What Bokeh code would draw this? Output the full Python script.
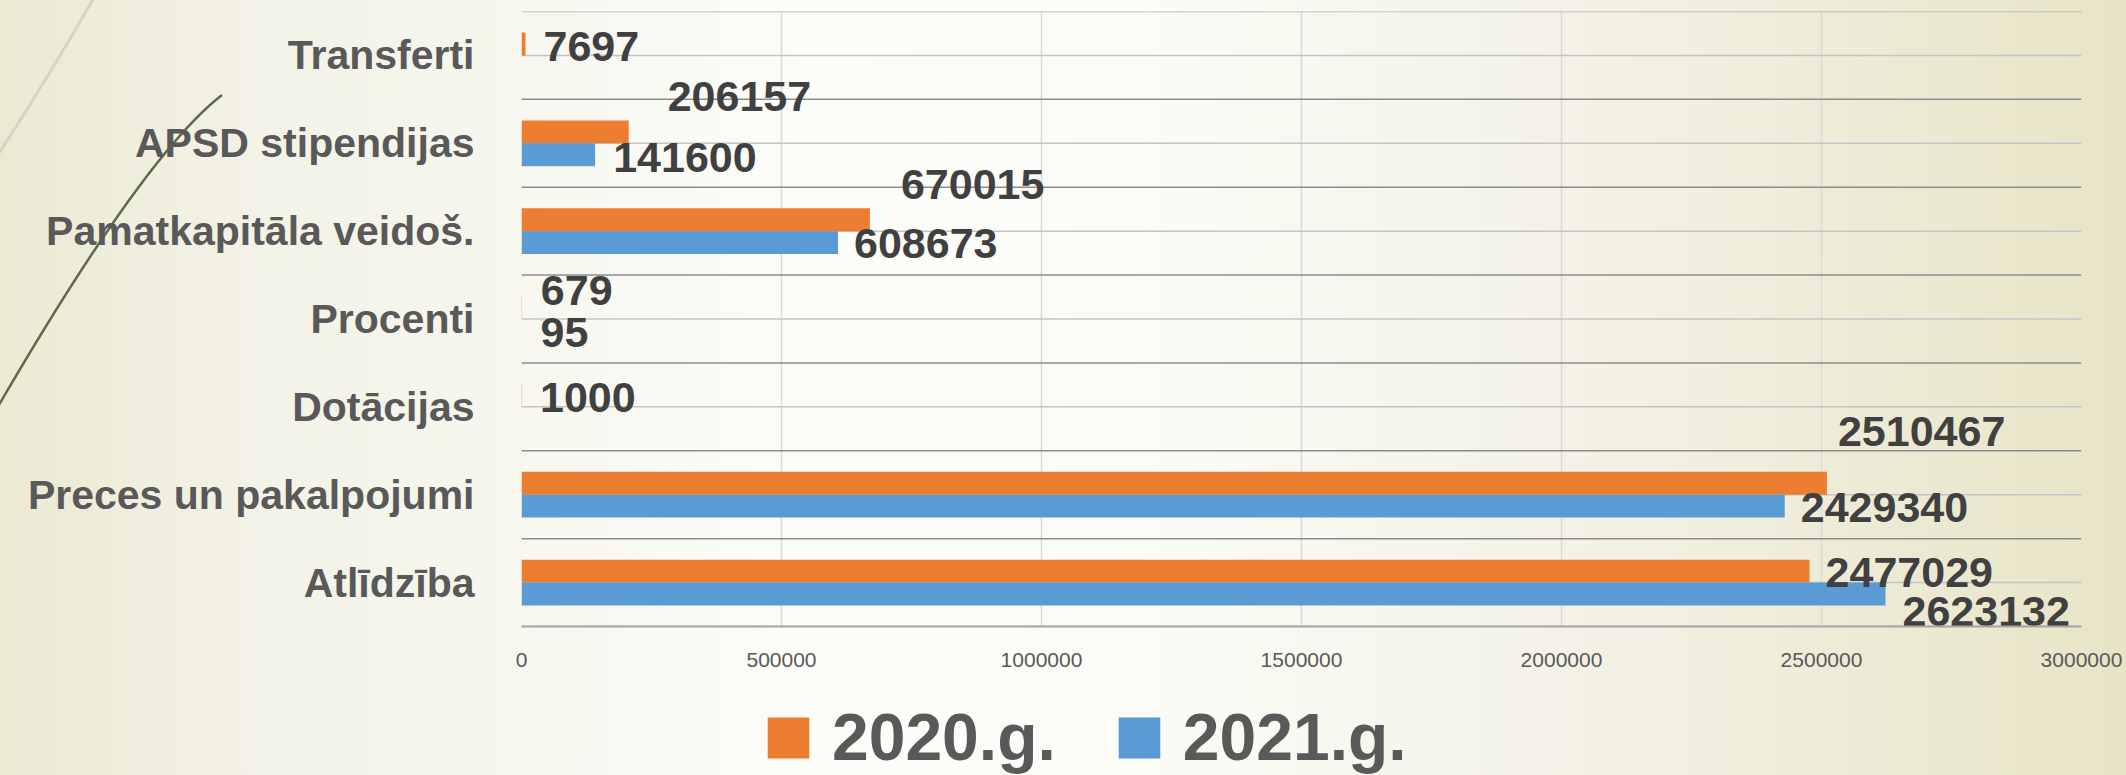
from urllib.parse import quote

from bokeh.plotting import figure
from bokeh.layouts import column
from bokeh.models import (FactorRange, Range1d, FixedTicker, NumeralTickFormatter,
                          Span, Legend, LegendItem, ColumnDataSource)
from bokeh.transform import dodge
from bokeh.core.properties import value
from bokeh.embed import file_html
from bokeh.resources import INLINE

# ---------------- data ----------------
categories = ["Transferti", "APSD stipendijas", "Pamatkapitāla veidoš.", "Procenti",
              "Dotācijas", "Preces un pakalpojumi", "Atlīdzība"]
values_2020 = [7697, 206157, 670015, 679, 1000, 2510467, 2477029]
values_2021 = [None, 141600, 608673, 95, None, 2429340, 2623132]
series_names = ["2020.g.", "2021.g."]
x_ticks = [0, 500000, 1000000, 1500000, 2000000, 2500000, 3000000]

# hand-placed label nudges from the original (pixels)
dx_2020 = [18, 39, 31, 19, 18, 11, 16]
dy_2020 = [2, -35, -35, -17, 2, -52, 1]
dx_2021 = [0, 18, 16, 19, 0, 16, 17]
dy_2021 = [0, 3, 1, 2, 0, 1, 18]

# ---------------- style ----------------
ORANGE = "#ED7D31"
BLUE = "#5B9BD5"
FONT_NAME = "Liberation Sans"
FONT = value(FONT_NAME)
W = 2126
H_CHART, H_LEGEND = 680, 95

gradient = ("linear-gradient(90deg, #ece9d3 0%, #f3f2e6 12%, #fcfcf9 38%, #fbfbf6 55%, "
            "#f2f0e2 78%, #e7e4c6 100%)")
bg_svg = (
    "<svg xmlns='http://www.w3.org/2000/svg' width='2126' height='680'>"
    "<path d='M 95 -4 Q 48 78 -4 158' stroke='#d3d6c3' stroke-width='3' fill='none'/>"
    "<path d='M 222 95 Q 144 155 -4 410' stroke='#5b6c46' stroke-width='2.5' fill='none'/>"
    "</svg>"
)
bg_css = "url(\"data:image/svg+xml;charset=utf-8," + quote(bg_svg) + "\") no-repeat, " + gradient

p = figure(
    width=W, height=H_CHART,
    y_range=FactorRange(factors=list(reversed(categories))),
    x_range=Range1d(0, x_ticks[-1]),
    output_backend="svg", toolbar_location=None,
    min_border_left=521, min_border_right=45, min_border_top=11, min_border_bottom=54,
    background_fill_alpha=0, border_fill_alpha=0, outline_line_color=None,
    styles={"background": bg_css},
)

# grid: vertical value lines, horizontal category lines
p.xgrid.grid_line_color = "#d9d9d9"
p.xgrid.grid_line_width = 1.5
p.xaxis.ticker = FixedTicker(ticks=x_ticks)
p.ygrid.grid_line_color = None

n = len(categories)
for i in range(n + 1):
    p.add_layout(Span(location=i, dimension="width", line_color="#8c8c8c" if 0 < i < n else "#b0b0b0",
                      line_width=1.5, level="underlay"))
for i in range(n):
    p.add_layout(Span(location=i + 0.5, dimension="width", line_color="#c4c4c4",
                      line_width=1.5, level="underlay"))

off = 0.13
bh = 0.26
nan = float("nan")
src20 = ColumnDataSource(dict(cat=categories, v=[nan if v is None else v for v in values_2020]))
src21 = ColumnDataSource(dict(cat=categories, v=[nan if v is None else v for v in values_2021]))

p.hbar(y=dodge("cat", off, range=p.y_range), left=0, right="v", height=bh,
       source=src20, fill_color=ORANGE, line_color=None)
p.hbar(y=dodge("cat", -off, range=p.y_range), left=0, right="v", height=bh,
       source=src21, fill_color=BLUE, line_color=None)


def label_source(vals, dxs, dys):
    d = dict(cat=[], v=[], t=[], dx=[], dy=[])
    for c, v, a, b in zip(categories, vals, dxs, dys):
        if v is None:
            continue
        d["cat"].append(c)
        d["v"].append(v)
        d["t"].append(str(v))
        d["dx"].append(a)
        d["dy"].append(b)
    return ColumnDataSource(d)


for vals, dxs, dys, o in ((values_2020, dx_2020, dy_2020, off), (values_2021, dx_2021, dy_2021, -off)):
    p.text(x="v", y=dodge("cat", o, range=p.y_range), text="t", x_offset="dx", y_offset="dy",
           source=label_source(vals, dxs, dys), text_font=FONT, text_font_style="bold",
           text_font_size="43px", text_color="#404040", text_align="left", text_baseline="middle")

# axes
p.xaxis.formatter = NumeralTickFormatter(format="0")
p.xaxis.axis_line_color = "#a6a6a6"
p.xaxis.axis_line_width = 2
p.xaxis.major_tick_line_color = None
p.xaxis.minor_tick_line_color = None
p.xaxis.major_tick_out = 0
p.xaxis.major_label_standoff = 26
p.xaxis.major_label_text_font = FONT_NAME
p.xaxis.major_label_text_font_size = "21px"
p.xaxis.major_label_text_color = "#595959"

p.yaxis.axis_line_color = None
p.yaxis.major_tick_line_color = None
p.yaxis.minor_tick_line_color = None
p.yaxis.major_tick_out = 0
p.yaxis.major_label_standoff = 47
p.yaxis.major_label_text_font = FONT_NAME
p.yaxis.major_label_text_font_style = "bold"
p.yaxis.major_label_text_font_size = "41px"
p.yaxis.major_label_text_color = "#595959"

# ---------------- legend strip (series keys drawn from the same sources) ----------------
p2 = figure(
    width=W, height=H_LEGEND,
    x_range=Range1d(0, x_ticks[-1]), y_range=FactorRange(factors=categories),
    x_axis_location=None, y_axis_location=None,
    output_backend="svg", toolbar_location=None, min_border=0,
    background_fill_alpha=0, border_fill_alpha=0, outline_line_color=None,
    styles={"background": gradient},
)
p2.grid.grid_line_color = None
k20 = p2.hbar(y="cat", left=0, right="v", height=bh, source=src20, fill_color=ORANGE, line_color=None)
k21 = p2.hbar(y="cat", left=0, right="v", height=bh, source=src21, fill_color=BLUE, line_color=None)
k20.visible = False
k21.visible = False

legend = Legend(
    items=[LegendItem(label=value(series_names[0]), renderers=[k20]),
           LegendItem(label=value(series_names[1]), renderers=[k21])],
    orientation="horizontal", location=(241, 0),
    padding=0, margin=0, spacing=57, label_standoff=18,
    glyph_width=52, glyph_height=51,
    label_text_font=FONT_NAME, label_text_font_style="bold", label_text_font_size="66px",
    label_text_color="#595959", background_fill_alpha=0, border_line_color=None,
    inactive_fill_alpha=0,
)
p2.add_layout(legend)

layout = column(p, p2, spacing=0)
open("out.html", "w").write(file_html(layout, INLINE))
